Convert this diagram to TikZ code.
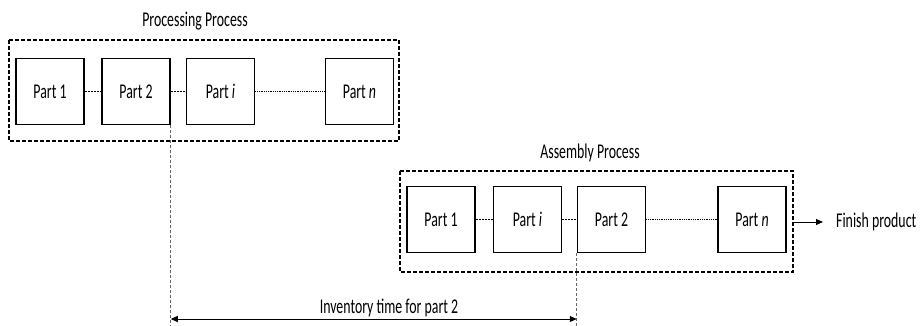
\documentclass[tikz,border=0pt]{standalone}
\usepackage{fontspec}
\setmainfont{Carlito}[FakeStretch=0.66]
\usetikzlibrary{arrows.meta}
\begin{document}
\begin{tikzpicture}[x=1pt,y=-1pt,
  partbox/.style={draw,line width=1.5pt,minimum width=68pt,minimum height=66pt,inner sep=0pt,font=\fontsize{21}{22}\selectfont},
  frame/.style={draw,line width=1.4pt,dash pattern=on 4pt off 2pt},
  link/.style={line width=0.6pt,dash pattern=on 2pt off 1pt},
  dotlink/.style={line width=0.9pt,dash pattern=on 1pt off 0.8pt},
  guide/.style={line width=0.8pt,gray!80!black,dash pattern=on 3pt off 2pt},
  label/.style={font=\fontsize{21}{22}\selectfont,inner sep=0pt},
  tip/.style={-{Triangle[length=7pt,width=6pt]},line width=1pt}]
\useasboundingbox (0,0) rectangle (921,326);

% Processing stage
\draw[frame] (9,40) rectangle (399,141);
\node[label] (ptitle) at (195,21) {Processing Process};
\node[partbox] (a1) at (50,91.5) {Part 1};
\node[partbox] (a2) at (136,91.5) {Part 2};
\node[partbox] (ai) at (220.5,91.5) {Part \textit{i}};
\node[partbox] (an) at (359.5,91.5) {Part \textit{n}};
\draw[link] (a1) -- (a2);
\draw[link] (a2) -- (ai);
\draw[dotlink] (ai) -- (an);

% Assembly stage
\draw[frame] (400,171) rectangle (793,272);
\node[label] (atitle) at (590,153) {Assembly Process};
\node[partbox] (b1) at (441,219.5) {Part 1};
\node[partbox] (bi) at (527.5,219.5) {Part \textit{i}};
\node[partbox] (b2) at (611.5,219.5) {Part 2};
\node[partbox] (bn) at (752,219.5) {Part \textit{n}};
\draw[link] (b1) -- (bi);
\draw[link] (bi) -- (b2);
\draw[dotlink] (b2) -- (bn);

% Output
\coordinate (outstart) at (793,222);
\node[label,anchor=west] (fin) at (836,222) {Finish product};
\draw[tip] (outstart) -- (823,222);

% Inventory interval
\coordinate (g1) at (a2.south east |- 0,326);
\coordinate (g2) at (b2.south west |- 0,326);
\draw[guide] (a2.south east) -- (g1);
\draw[guide] (b2.south west) -- (g2);
\coordinate (t1) at (a2.south east |- 0,319);
\coordinate (t2) at (b2.south west |- 0,319);
\draw[tip,{Triangle[length=7pt,width=6pt]}-{Triangle[length=7pt,width=6pt]}] (t1) -- (t2);
\node[label] (inv) at (389,308) {Inventory time for part 2};
\end{tikzpicture}
\end{document}
